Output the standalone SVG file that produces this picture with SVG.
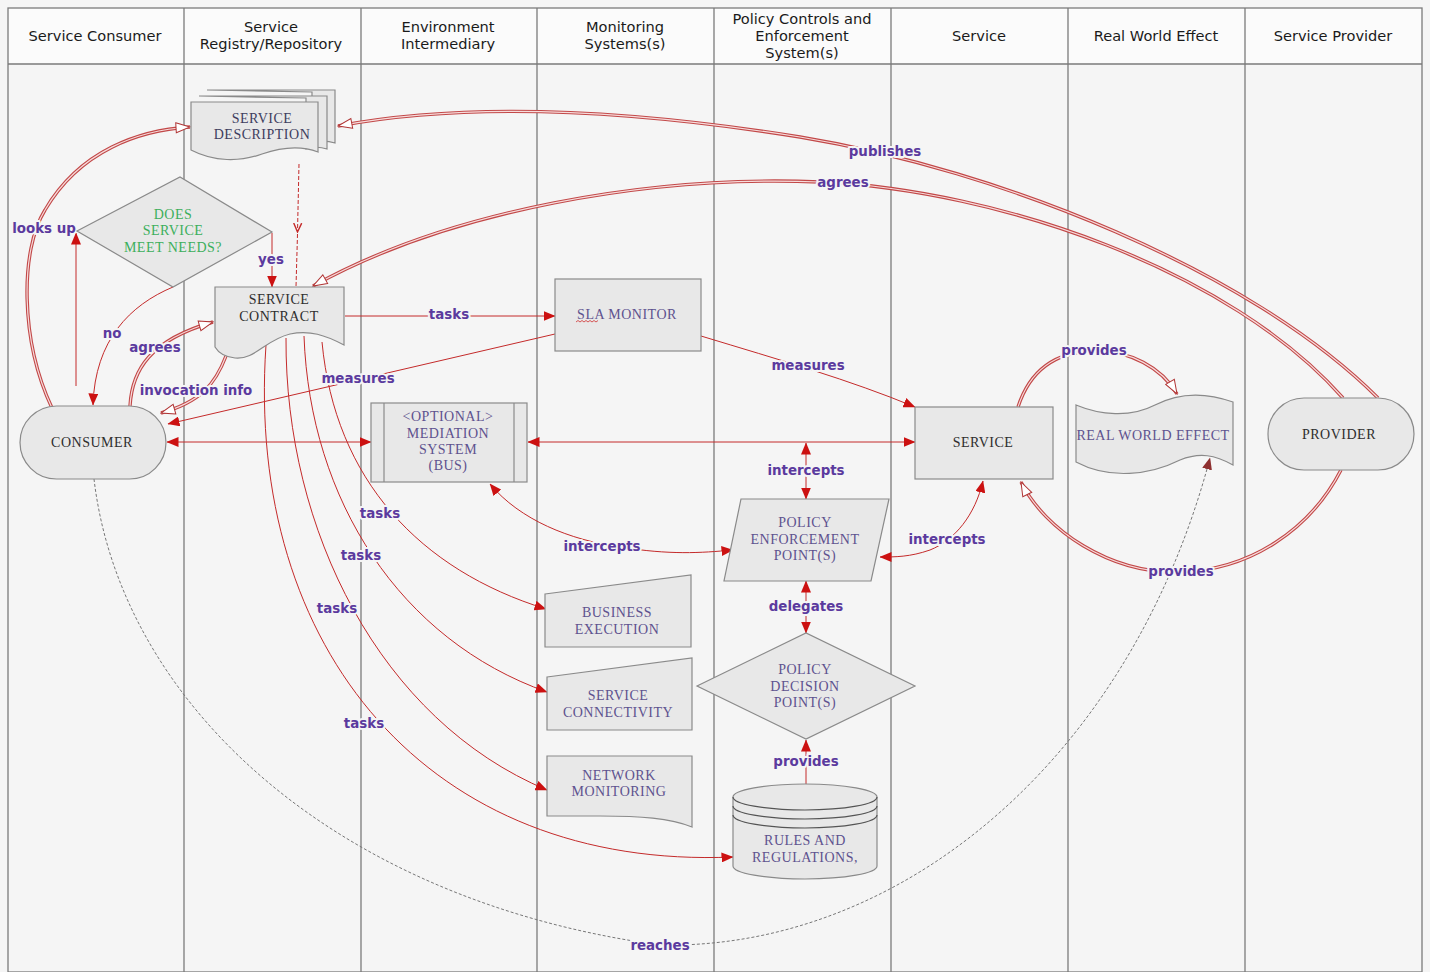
<svg xmlns="http://www.w3.org/2000/svg" width="1430" height="972" viewBox="0 0 1430 972">
<style>
.lane{fill:#f5f5f5;stroke:none}
.hdr{fill:#fbfbfb;stroke:none}
.grid{stroke:#7a7a7a;stroke-width:1.3;fill:none}
.h{font-family:"DejaVu Sans",Verdana,sans-serif;font-size:14.6px;fill:#1a1a1a;text-anchor:middle}
.shape{fill:#e8e8e8;stroke:#8a8a8a;stroke-width:1.2}
.n{font-family:"Liberation Serif","Times New Roman",serif;font-size:14px;text-anchor:middle;letter-spacing:0.5px}
.dk{fill:#2e2e2e}
.pu{fill:#5e528f}
.gr{fill:#3caf5c}
.c{fill:none;stroke:#c42a2a;stroke-width:1}
.cd{fill:none;stroke:#c42a2a;stroke-width:1;stroke-dasharray:4 2}
.rc{fill:none;stroke:#777;stroke-width:1;stroke-dasharray:3 2}
.dbl{fill:none;stroke:#c24848;stroke-width:3.4}
.dbi{fill:none;stroke:#f7dcdc;stroke-width:1.2}
.mk{fill:none;stroke:none}
.lb{font-family:"DejaVu Sans",Verdana,sans-serif;font-weight:bold;font-size:13.4px;fill:#5b3a9e;text-anchor:middle;stroke:#f5f5f5;stroke-width:4;paint-order:stroke;stroke-linejoin:round}
</style>
<defs>
<marker id="af" viewBox="0 0 12 10" refX="11.5" refY="5" markerWidth="12" markerHeight="10" orient="auto-start-reverse" markerUnits="userSpaceOnUse"><path d="M0,0 L12,5 L0,10 z" fill="#cc1111"/></marker>
<marker id="ad" viewBox="0 0 12 10" refX="11.5" refY="5" markerWidth="12" markerHeight="10" orient="auto" markerUnits="userSpaceOnUse"><path d="M0,0 L12,5 L0,10 z" fill="#8e3030"/></marker>
<marker id="ah" viewBox="0 0 16 12" refX="15" refY="6" markerWidth="16" markerHeight="12" orient="auto" markerUnits="userSpaceOnUse"><path d="M1,1 L15,6 L1,11 z" fill="#ffffff" stroke="#b03434" stroke-width="1"/></marker>
<marker id="av" viewBox="0 0 10 10" refX="9" refY="5" markerWidth="10" markerHeight="10" orient="auto" markerUnits="userSpaceOnUse"><path d="M0,1 L9,5 L0,9" fill="none" stroke="#c42a2a" stroke-width="1.4"/></marker>
</defs>

<!-- table / swimlanes -->
<g id="lanes">
<rect class="lane" x="0" y="0" width="1430" height="972"/>
<rect class="hdr" x="8" y="8" width="1414" height="56"/>
<rect class="grid" x="8" y="8" width="1414" height="964"/>
<line class="grid" x1="8" y1="64" x2="1422" y2="64"/>
<line class="grid" x1="184" y1="8" x2="184" y2="972"/>
<line class="grid" x1="361" y1="8" x2="361" y2="972"/>
<line class="grid" x1="537" y1="8" x2="537" y2="972"/>
<line class="grid" x1="714" y1="8" x2="714" y2="972"/>
<line class="grid" x1="891" y1="8" x2="891" y2="972"/>
<line class="grid" x1="1068" y1="8" x2="1068" y2="972"/>
<line class="grid" x1="1245" y1="8" x2="1245" y2="972"/>
<text class="h" x="95" y="41">Service Consumer</text>
<text class="h" x="271" y="32">Service</text>
<text class="h" x="271" y="49">Registry/Repository</text>
<text class="h" x="448" y="32">Environment</text>
<text class="h" x="448" y="49">Intermediary</text>
<text class="h" x="625" y="32">Monitoring</text>
<text class="h" x="625" y="49">Systems(s)</text>
<text class="h" x="802" y="24">Policy Controls and</text>
<text class="h" x="802" y="41">Enforcement</text>
<text class="h" x="802" y="58">System(s)</text>
<text class="h" x="979" y="41">Service</text>
<text class="h" x="1156" y="41">Real World Effect</text>
<text class="h" x="1333" y="41">Service Provider</text>
</g>

<!-- connectors -->
<g id="connectors">
<!-- publishes -->
<path class="dbl" d="M1378,398 C1250,270 1000,170 800,137 C600,105 450,105 338,126"/>
<path class="dbi" d="M1378,398 C1250,270 1000,170 800,137 C600,105 450,105 338,126"/>
<path class="mk" marker-end="url(#ah)" d="M1378,398 C1250,270 1000,170 800,137 C600,105 450,105 338,126"/>
<!-- agrees (provider -> contract) -->
<path class="dbl" d="M1343,398 C1230,270 1000,190 820,182 C650,175 450,210 313,286"/>
<path class="dbi" d="M1343,398 C1230,270 1000,190 820,182 C650,175 450,210 313,286"/>
<path class="mk" marker-end="url(#ah)" d="M1343,398 C1230,270 1000,190 820,182 C650,175 450,210 313,286"/>
<!-- looks up (consumer -> description) -->
<path class="dbl" d="M52,408 C20,340 20,250 45,210 C80,150 140,130 190,127"/>
<path class="dbi" d="M52,408 C20,340 20,250 45,210 C80,150 140,130 190,127"/>
<path class="mk" marker-end="url(#ah)" d="M52,408 C20,340 20,250 45,210 C80,150 140,130 190,127"/>
<!-- agrees (consumer -> contract) -->
<path class="dbl" d="M130,406 C132,370 150,340 213,322"/>
<path class="dbi" d="M130,406 C132,370 150,340 213,322"/>
<path class="mk" marker-end="url(#ah)" d="M130,406 C132,370 150,340 213,322"/>
<!-- invocation info -->
<path class="dbl" d="M226,356 C215,385 200,402 161,413"/>
<path class="dbi" d="M226,356 C215,385 200,402 161,413"/>
<path class="mk" marker-end="url(#ah)" d="M226,356 C215,385 200,402 161,413"/>
<!-- provides (service -> real world effect) -->
<path class="dbl" d="M1018,407 C1030,370 1055,352 1093,351 C1130,350 1162,368 1177,394"/>
<path class="dbi" d="M1018,407 C1030,370 1055,352 1093,351 C1130,350 1162,368 1177,394"/>
<path class="mk" marker-end="url(#ah)" d="M1018,407 C1030,370 1055,352 1093,351 C1130,350 1162,368 1177,394"/>
<!-- provides (provider -> service) -->
<path class="dbl" d="M1341,470 C1310,530 1250,570 1180,572 C1110,574 1045,530 1021,482"/>
<path class="dbi" d="M1341,470 C1310,530 1250,570 1180,572 C1110,574 1045,530 1021,482"/>
<path class="mk" marker-end="url(#ah)" d="M1341,470 C1310,530 1250,570 1180,572 C1110,574 1045,530 1021,482"/>

<!-- looks up vertical -->
<path class="c" marker-end="url(#af)" d="M76,386 V233"/>
<!-- no -->
<path class="c" marker-end="url(#af)" d="M173,287 C130,305 95,340 93,405"/>
<!-- yes -->
<path class="c" marker-end="url(#af)" d="M272,233 V287"/>
<!-- description -> contract dashed -->
<path class="cd" marker-end="url(#av)" d="M299,164 L297.5,232"/>
<path class="cd" d="M297.5,234 L296,287"/>
<!-- measures (sla -> consumer) -->
<path class="c" marker-end="url(#af)" d="M555,334 L168,424"/>
<!-- consumer <-> mediation -->
<path class="c" marker-start="url(#af)" marker-end="url(#af)" d="M167,442 H371"/>
<!-- mediation <-> service -->
<path class="c" marker-start="url(#af)" marker-end="url(#af)" d="M528,442 H915"/>
<!-- tasks contract -> sla -->
<path class="c" marker-end="url(#af)" d="M345,316 H555"/>
<!-- measures sla -> service -->
<path class="c" marker-end="url(#af)" d="M701,336 C780,360 850,380 915,407"/>
<!-- intercepts vertical -->
<path class="c" marker-start="url(#af)" marker-end="url(#af)" d="M806,443 V499"/>
<!-- intercepts mediation <-> PEP -->
<path class="c" marker-start="url(#af)" marker-end="url(#af)" d="M490,484 C520,520 570,540 620,547 C670,555 700,553 733,550"/>
<!-- intercepts service <-> PEP -->
<path class="c" marker-start="url(#af)" marker-end="url(#af)" d="M983,481 C975,515 955,540 930,550 C910,557 895,557 880,557"/>
<!-- delegates -->
<path class="c" marker-start="url(#af)" marker-end="url(#af)" d="M806,581 V633"/>
<!-- provides rules -> PDP -->
<path class="c" marker-end="url(#af)" d="M806,784 V740"/>
<!-- tasks curves -->
<path class="c" marker-end="url(#af)" d="M322,342 C335,480 420,570 546,609"/>
<path class="c" marker-end="url(#af)" d="M304,336 C310,500 400,640 547,692"/>
<path class="c" marker-end="url(#af)" d="M286,338 C285,530 380,720 547,790"/>
<path class="c" marker-end="url(#af)" d="M266,345 C245,650 430,870 733,857"/>
<!-- reaches -->
<path class="rc" marker-end="url(#ad)" d="M94,479 C120,700 330,900 660,945 C900,950 1130,760 1210,458"/>

<!-- labels -->
<text class="lb" x="885" y="156">publishes</text>
<text class="lb" x="843" y="187">agrees</text>
<text class="lb" x="44" y="233">looks up</text>
<text class="lb" x="271" y="264">yes</text>
<text class="lb" x="112" y="338">no</text>
<text class="lb" x="155" y="352">agrees</text>
<text class="lb" x="196" y="395">invocation info</text>
<text class="lb" x="358" y="383">measures</text>
<text class="lb" x="449" y="319">tasks</text>
<text class="lb" x="808" y="370">measures</text>
<text class="lb" x="806" y="475">intercepts</text>
<text class="lb" x="602" y="551">intercepts</text>
<text class="lb" x="947" y="544">intercepts</text>
<text class="lb" x="1094" y="355">provides</text>
<text class="lb" x="1181" y="576">provides</text>
<text class="lb" x="806" y="611">delegates</text>
<text class="lb" x="806" y="766">provides</text>
<text class="lb" x="380" y="518">tasks</text>
<text class="lb" x="361" y="560">tasks</text>
<text class="lb" x="337" y="613">tasks</text>
<text class="lb" x="364" y="728">tasks</text>
<text class="lb" x="660" y="950">reaches</text>
</g>

<!-- nodes -->
<g id="service-description">
<path class="shape" stroke="#555" d="M207,90 H335 V143 C325,140 318,141 312,143 L312,92 Z"/>
<path class="shape" stroke="#444" d="M199,96 H327 V149 C318,146 312,147 306,149 L306,98 Z"/>
<path class="shape" stroke="#333" d="M191,102 H318 V152 C300,145 282,147 262,154 C240,162 214,162 191,150 Z"/>
<text class="n" fill="#3d3d5e" x="262" y="123">SERVICE</text>
<text class="n" fill="#3d3d5e" x="262" y="139">DESCRIPTION</text>
</g>

<g id="decision-needs">
<path class="shape" d="M77,231 L180,177 L272,232 L173,287 Z"/>
<text class="n gr" x="173" y="219">DOES</text>
<text class="n gr" x="173" y="235">SERVICE</text>
<text class="n gr" x="173" y="252">MEET NEEDS?</text>
</g>

<g id="service-contract">
<path class="shape" d="M215,287 H344 V345 C325,335 310,330 290,334 C265,340 255,360 235,358 C225,357 218,352 215,347 Z"/>
<text class="n dk" x="279" y="304">SERVICE</text>
<text class="n dk" x="279" y="321">CONTRACT</text>
</g>

<g id="sla-monitor">
<rect class="shape" x="555" y="279" width="146" height="72"/>
<text class="n pu" x="627" y="319">SLA MONITOR</text>
<path d="M576,322 l2,-1.5 l2,1.5 l2,-1.5 l2,1.5 l2,-1.5 l2,1.5 l2,-1.5 l2,1.5 l2,-1.5 l2,1.5 l2,-1.5" fill="none" stroke="#d03030" stroke-width="0.8"/>
</g>

<g id="consumer">
<rect class="shape" x="20" y="406" width="146" height="73" rx="36.5" ry="36.5"/>
<text class="n dk" x="92" y="447">CONSUMER</text>
</g>

<g id="mediation">
<rect class="shape" x="371" y="403" width="156" height="79"/>
<line x1="384" y1="403" x2="384" y2="482" stroke="#8a8a8a" stroke-width="1.2"/>
<line x1="514" y1="403" x2="514" y2="482" stroke="#8a8a8a" stroke-width="1.2"/>
<text class="n pu" x="448" y="421">&lt;OPTIONAL&gt;</text>
<text class="n pu" x="448" y="438">MEDIATION</text>
<text class="n pu" x="448" y="454">SYSTEM</text>
<text class="n pu" x="448" y="470">(BUS)</text>
</g>

<g id="service">
<rect class="shape" x="915" y="407" width="138" height="72"/>
<text class="n dk" x="983" y="447">SERVICE</text>
</g>

<g id="real-world-effect">
<path class="shape" d="M1076,405 C1100,415 1130,418 1155,405 C1180,392 1205,392 1233,402 V465 C1215,455 1200,452 1180,460 C1150,475 1110,480 1076,462 Z"/>
<text class="n pu" x="1153" y="440">REAL WORLD EFFECT</text>
</g>

<g id="provider">
<rect class="shape" x="1268" y="398" width="146" height="72" rx="36" ry="36"/>
<text class="n dk" x="1339" y="439">PROVIDER</text>
</g>

<g id="policy-enforcement-point">
<path class="shape" d="M741,499 H889 L871,581 H724 Z"/>
<text class="n pu" x="805" y="527">POLICY</text>
<text class="n pu" x="805" y="544">ENFORCEMENT</text>
<text class="n pu" x="805" y="560">POINT(S)</text>
</g>

<g id="business-execution">
<path class="shape" d="M545,594 L691,575 V647 H545 Z"/>
<text class="n pu" x="617" y="617">BUSINESS</text>
<text class="n pu" x="617" y="634">EXECUTION</text>
</g>

<g id="service-connectivity">
<path class="shape" d="M547,677 L692,658 V730 H547 Z"/>
<text class="n pu" x="618" y="700">SERVICE</text>
<text class="n pu" x="618" y="717">CONNECTIVITY</text>
</g>

<g id="network-monitoring">
<path class="shape" d="M547,756 H692 V827 C670,818 640,816 600,816 H547 Z"/>
<text class="n pu" x="619" y="780">NETWORK</text>
<text class="n pu" x="619" y="796">MONITORING</text>
</g>

<g id="policy-decision-point">
<path class="shape" d="M697,686 L806,633 L915,686 L806,739 Z"/>
<text class="n pu" x="805" y="674">POLICY</text>
<text class="n pu" x="805" y="691">DECISION</text>
<text class="n pu" x="805" y="707">POINT(S)</text>
</g>

<g id="rules-and-regulations">
<path class="shape" d="M733,797 V866 A72,13 0 0 0 877,866 V797 A72,13 0 0 0 733,797 Z"/>
<path d="M733,797 A72,13 0 0 0 877,797" fill="none" stroke="#555" stroke-width="1.2"/>
<path d="M733,806 A72,13 0 0 0 877,806" fill="none" stroke="#555" stroke-width="1.2"/>
<path d="M733,815 A72,13 0 0 0 877,815" fill="none" stroke="#555" stroke-width="1.2"/>
<text class="n pu" x="805" y="845">RULES AND</text>
<text class="n pu" x="805" y="862">REGULATIONS,</text>
</g>
</svg>
